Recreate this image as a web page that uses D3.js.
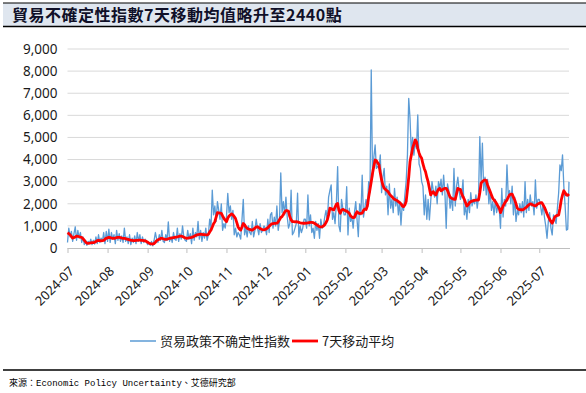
<!DOCTYPE html>
<html>
<head>
<meta charset="utf-8">
<script src="https://cdn.jsdelivr.net/npm/d3@7"></script>
<style>
  html, body { margin: 0; padding: 0; background: #fff; }
  svg { display: block; }
</style>
</head>
<body>
<div id="viz"></div>
<script>
// chart data (one value per day from 2024-07-01)
const startDate = "2024-07-01";

const dailyJul24 = [250,900,500,750,300,650,960,350,800,450,700,250,500,150,350,120,300,200,400,150,350,180,500,200,600,250,450,300,700,200,750];
const dailyAug24 = [300,850,250,700,400,600,200,800,350,650,300,550,250,900,300,500,200,600,150,450,250,550,200,700,300,600,200,500,250,400,300];
const dailySep24 = [150,250,120,300,100,350,700,400,250,600,350,800,300,250,600,350,1180,300,500,250,700,400,350,900,300,650,400,1000,500,350];
const dailyOct24 = [300,800,400,650,200,900,350,700,500,1200,400,800,300,700,450,900,350,600,1300,900,2620,1500,1900,1200,2100,1700,1300,2000,800,1100,900];
const dailyNov24 = [1400,2470,1600,1900,1300,1700,600,900,500,700,600,400,1300,2200,600,900,500,1000,700,600,1200,500,800,1300,900,600,1100,700,800,1000];
const dailyDec24 = [900,600,1300,700,1500,1600,900,1400,1000,1900,800,1200,3400,1600,2100,1500,2300,1400,900,1100,2620,600,700,900,1100,2480,500,1000,700,900,1300];
const dailyJan25 = [1300,900,2400,1000,1500,700,900,440,1200,800,1100,440,1300,900,1000,1400,1700,1200,2300,2600,2850,1300,1600,1100,2000,3680,1000,740,2200,1800,1500];
const dailyFeb25 = [1500,2770,590,1800,1200,1400,900,1600,2100,1300,510,2000,1500,3300,1400,1800,2200,1810,3000,2500,8050,3200,4100,4660,3600,3700,3610,4210];
const dailyMar25 = [2500,3200,3600,2400,2800,1500,2900,1800,2200,1600,2700,1900,2300,1500,2100,1040,2000,1700,2400,3000,4200,6770,5870,4300,5000,4200,4800,4500,6020,3800,3600];
const dailyApr25 = [3000,2800,1500,2400,1300,2200,1270,2100,3000,2600,2300,2800,2000,3000,2700,3110,2400,3300,2500,890,2900,2600,1800,2300,1700,3600,1900,2800,3200,2600];
const dailyMay25 = [2200,2400,3080,1500,1900,1300,2200,1600,2500,1900,2200,2000,2400,1800,2300,5040,3000,4740,2600,3200,2400,3100,2000,2600,1700,2100,1500,2200,1600,1900,1800];
const dailyJun25 = [890,2700,1400,2200,1900,3760,2400,2600,2000,2800,1500,2300,1200,1700,1500,2000,1600,2100,1400,3000,1600,2200,1700,2400,1900,2100,1500,3080,1800,2200];
const dailyJul25 = [2200,1900,1500,2000,1400,1000,440,1200,1600,900,590,1500,1300,1100,1800,2500,3760,3500,4210,2800,1900,810,850,3000];

const maJul24 = [690,650,600,520,450,470,500,540,530,510,490,480,420,350,270,220,210,220,230,240,240,260,290,330,340,330,320,330,340,400,440];
const maAug24 = [460,480,470,450,440,440,450,470,480,480,470,450,440,430,420,400,390,370,350,340,330,330,340,350,360,360,350,340,330,320,300];
const maSep24 = [260,220,200,190,180,200,260,330,370,400,430,440,420,400,390,400,420,440,450,460,470,480,490,500,520,540,540,520,490,460];
const maOct24 = [440,450,460,470,480,500,530,560,590,600,620,630,620,610,600,590,590,620,720,810,950,1100,1190,1400,1600,1590,1580,1570,1450,1340,1260];
const maNov24 = [1190,1350,1450,1500,1540,1500,1420,1330,1150,950,860,810,950,1110,1050,950,890,860,840,820,810,850,900,950,960,920,880,850,830,820];
const maDec24 = [840,870,920,980,1040,1090,1100,1110,1110,1120,1180,1280,1380,1420,1520,1620,1690,1690,1660,1420,1270,1190,1190,1180,1190,1180,1160,1140,1130,1120,1120];
const maJan25 = [1120,1130,1140,1150,1160,1160,1150,1120,1080,1040,1000,960,950,960,990,1050,1150,1270,1500,1800,1780,1740,1720,1850,1980,2010,1700,1570,1700,1750,1720];
const maFeb25 = [1690,1670,1620,1570,1450,1400,1370,1380,1540,1640,1580,1560,1570,1580,1700,1760,1740,1900,2300,2650,3000,3380,3700,3980,3950,3850,3760,3400];
const maMar25 = [3080,2850,2700,2650,2600,2550,2450,2380,2320,2250,2200,2170,2150,2100,2050,2000,1900,1870,1950,2100,2620,3200,3900,4200,4510,4700,4890,4800,4510,4300,4150];
const maApr25 = [4060,3800,3600,3450,3200,3000,2700,2400,2500,2550,2450,2400,2550,2650,2700,2590,2620,2680,2700,2700,2600,2450,2300,2250,2230,2200,2200,2450,2700,2650];
const maMay25 = [2650,2450,2320,2200,2050,1900,1950,2050,2100,2120,2140,2150,2160,2170,2170,2500,2930,3000,3050,3080,3050,2850,2700,2550,2400,2250,2170,2100,2000,1900,1800];
const maJun25 = [1600,1750,1900,2000,2100,2170,2300,2400,2440,2440,2300,2170,2000,1800,1750,1740,1730,1720,1750,1800,1840,1900,1960,1990,1980,1950,1920,1900,1950,2000];
const maJul25 = [2020,2050,2050,1950,1840,1700,1550,1420,1300,1200,1120,1250,1400,1450,1480,1490,1800,2170,2400,2590,2500,2400,2380,2440];

const yTicks = [0,1000,2000,3000,4000,5000,6000,7000,8000,9000];
const xTickLabels = ["2024-07","2024-08","2024-09","2024-10","2024-11","2024-12","2025-01","2025-02","2025-03","2025-04","2025-05","2025-06","2025-07"];
const seriesNames = ["贸易政策不确定性指数", "7天移动平均"];
const titleText = "貿易不確定性指數7天移動均值略升至2440點";
const sourceText = "來源：Economic Policy Uncertainty、艾德研究部";

const daily = [].concat(dailyJul24, dailyAug24, dailySep24, dailyOct24, dailyNov24, dailyDec24,
    dailyJan25, dailyFeb25, dailyMar25, dailyApr25, dailyMay25, dailyJun25, dailyJul25);
const ma7 = [].concat(maJul24, maAug24, maSep24, maOct24, maNov24, maDec24,
    maJan25, maFeb25, maMar25, maApr25, maMay25, maJun25, maJul25);

const parse = d3.timeParse("%Y-%m-%d");
const t0 = parse(startDate);
const rows = daily.map((v, i) => ({date: d3.timeDay.offset(t0, i), v: v, ma: ma7[i]}));

let svgWidth = 586, svgHeight = 393;
let margin = {left: 67.5, right: 17, top: 49, bottom: 145};

const svg = d3.select('#viz')
    .append('svg')
    .attr('width', svgWidth)
    .attr('height', svgHeight);

// title bar
svg.append('rect')
    .attr('x', 3).attr('y', 3)
    .attr('width', svgWidth - 3).attr('height', 23)
    .attr('fill', '#dfe6ef');
svg.append('line')
    .attr('x1', 3).attr('x2', svgWidth).attr('y1', 3).attr('y2', 3)
    .attr('stroke', '#000').attr('stroke-width', 1.2);
svg.append('line')
    .attr('x1', 3).attr('x2', svgWidth).attr('y1', 26.5).attr('y2', 26.5)
    .attr('stroke', '#000').attr('stroke-width', 1.6);
svg.append('text')
    .attr('x', 12).attr('y', 21)
    .attr('font-family', '"Noto Sans CJK TC", "Noto Sans CJK SC", sans-serif')
    .attr('font-weight', 'bold')
    .attr('font-size', 16)
    .attr('letter-spacing', 0.5)
    .attr('fill', '#101028')
    .text(titleText);

let x = d3.scaleTime()
    .domain([t0, rows[rows.length - 1].date])
    .range([margin.left, svgWidth - margin.right]);
let y = d3.scaleLinear()
    .domain([0, 9000])
    .range([svgHeight - margin.bottom, margin.top]);

// gridlines
svg.append('g')
    .selectAll('line')
    .data(yTicks.filter(d => d > 0))
    .join('line')
    .attr('x1', margin.left)
    .attr('x2', svgWidth - margin.right)
    .attr('y1', d => y(d))
    .attr('y2', d => y(d))
    .attr('stroke', '#d9d9d9')
    .attr('stroke-width', 1);

// y axis labels
svg.append('g')
    .attr('transform', `translate(${margin.left},0)`)
    .call(d3.axisLeft(y).tickValues(yTicks).tickSize(0).tickPadding(10).tickFormat(d3.format(',')))
    .call(g => g.select('.domain').remove())
    .call(g => g.selectAll('text')
        .attr('font-family', '"Noto Sans", sans-serif')
        .attr('font-size', 13.5)
        .attr('fill', '#1a1a1a'));

// x axis
const monthTicks = xTickLabels.map(s => parse(s + "-01"));
const xAxis = svg.append('g')
    .attr('transform', `translate(0,${y(0)})`)
    .call(d3.axisBottom(x).tickValues(monthTicks).tickSize(5).tickFormat((d, i) => xTickLabels[i]));
xAxis.select('.domain')
    .attr('stroke', '#bfbfbf')
    .attr('d', `M${margin.left},0.5H${svgWidth - margin.right + 1}`);
xAxis.selectAll('.tick line').attr('stroke', '#bfbfbf');
xAxis.selectAll('.tick text')
    .attr('font-family', '"Noto Sans", sans-serif')
    .attr('font-size', 13)
    .attr('fill', '#1a1a1a')
    .attr('text-anchor', 'end')
    .attr('dy', 0)
    .attr('y', 0)
    .attr('transform', 'translate(7,24) rotate(-45)');

// lines
let lineDaily = d3.line().x(d => x(d.date)).y(d => y(d.v));
let lineMA = d3.line().x(d => x(d.date)).y(d => y(d.ma));

svg.append('path')
    .datum(rows)
    .attr('fill', 'none')
    .attr('stroke', '#5b9bd5')
    .attr('stroke-width', 1.3)
    .attr('stroke-linejoin', 'round')
    .attr('d', lineDaily);

svg.append('path')
    .datum(rows)
    .attr('fill', 'none')
    .attr('stroke', '#ff0000')
    .attr('stroke-width', 2.8)
    .attr('stroke-linejoin', 'round')
    .attr('d', lineMA);

// legend
const legend = svg.append('g').attr('transform', 'translate(0,341)');
const legendItems = [
    {name: seriesNames[0], color: '#5b9bd5', w: 1.5, x: 130},
    {name: seriesNames[1], color: '#ff0000', w: 2.8, x: 292}
];
legendItems.forEach(it => {
    legend.append('line')
        .attr('x1', it.x).attr('x2', it.x + 26)
        .attr('y1', 0).attr('y2', 0)
        .attr('stroke', it.color)
        .attr('stroke-width', it.w);
    legend.append('text')
        .attr('x', it.x + 30).attr('y', 5)
        .attr('font-family', '"Noto Sans CJK SC", sans-serif')
        .attr('font-size', 13)
        .attr('fill', '#1a1a1a')
        .text(it.name);
});

// source footer
svg.append('line')
    .attr('x1', 3).attr('x2', svgWidth).attr('y1', 370).attr('y2', 370)
    .attr('stroke', '#000').attr('stroke-width', 1.4);
svg.append('text')
    .attr('x', 9).attr('y', 386)
    .attr('font-family', '"Liberation Mono", "Noto Sans CJK TC", monospace')
    .attr('font-size', 9)
    .attr('fill', '#000')
    .text(sourceText);
</script>
</body>
</html>
